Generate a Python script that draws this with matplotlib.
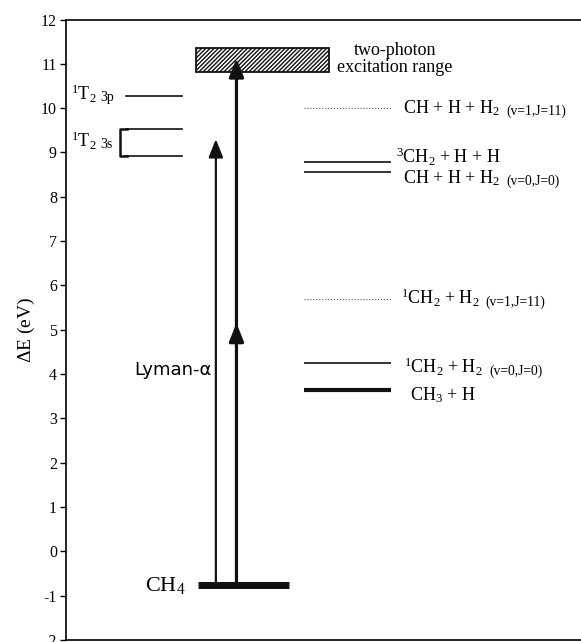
import matplotlib.pyplot as plt
from matplotlib.patches import Rectangle

plt.rcParams['font.family'] = 'Liberation Serif'
plt.rcParams['mathtext.fontset'] = 'custom'
plt.rcParams['mathtext.rm'] = 'Liberation Serif'
plt.rcParams['mathtext.it'] = 'Liberation Serif:italic'
plt.rcParams['axes.unicode_minus'] = False

# product channels (eV)
product_labels = [r'CH + H + H$_2$', r'$^3$CH$_2$ + H + H', r'CH + H + H$_2$',
                  r'$^1$CH$_2$ + H$_2$', r'$^1$CH$_2$ + H$_2$', r'CH$_3$ + H']
product_states = ['(v=1,J=11)', '', '(v=0,J=0)', '(v=1,J=11)', '(v=0,J=0)', '']
product_energy = [10.0, 8.78, 8.56, 5.69, 4.25, 3.64]

# Rydberg states of methane
rydberg_labels = ['3p', '3s']
rydberg_3p = [10.28]
rydberg_3s = [9.54, 8.93]

ch4_energy = -0.77
lyman_tip = 9.3
two_photon_steps = [5.15, 11.12]
two_photon_range = [10.82, 11.35]
yticks = list(range(-2, 13))

fig = plt.figure(figsize=(5.81, 6.42), dpi=100)
ax = fig.add_axes([66 / 581, 2 / 642, 515 / 581, 620.5 / 642])
ax.set_xlim(0, 1)
ax.set_ylim(-2, 12)
ax.set_yticks(yticks)
ax.set_xticks([])
ax.tick_params(axis='y', direction='out', length=4.5, width=1, labelsize=11.5, pad=2)
ax.spines['right'].set_visible(False)
for side in ['left', 'top', 'bottom']:
    ax.spines[side].set_linewidth(1.2)
ax.set_ylabel(r'$\Delta$E (eV)', fontsize=14, labelpad=3)

ink = '#111111'

# right-hand column of product levels
line_styles = [dict(ls=':', lw=0.8, color='#555555'), dict(ls='-', lw=1.2, color=ink),
               dict(ls='-', lw=1.2, color=ink), dict(ls=':', lw=0.8, color='#555555'),
               dict(ls='-', lw=1.2, color=ink), dict(ls='-', lw=3.0, color=ink)]
label_dy = [-0.11, -0.02, -0.25, -0.11, -0.23, -0.23]
label_x = [0.654, 0.641, 0.654, 0.650, 0.657, 0.668]
for lab, st, e, style, dy, lx in zip(product_labels, product_states, product_energy,
                                     line_styles, label_dy, label_x):
    ax.plot([0.462, 0.632], [e, e], solid_capstyle='butt', **style)
    t = ax.text(lx, e + dy, lab, fontsize=13, va='baseline', ha='left')
    if st:
        ax.annotate(st, xy=(1, 0), xycoords=t, xytext=(4.5, 0), textcoords='offset points',
                    fontsize=9.8, va='bottom', ha='left')

# Rydberg levels on the left
for e in rydberg_3p + rydberg_3s:
    ax.plot([0.117, 0.225], [e, e], color=ink, lw=1.2)
ax.plot([0.119, 0.104, 0.104, 0.119],
        [rydberg_3s[0], rydberg_3s[0], rydberg_3s[1], rydberg_3s[1]], color=ink, lw=1.8)
for name, base in zip(rydberg_labels, [rydberg_3p[0] - 0.10, sum(rydberg_3s) / 2 - 0.12]):
    t = ax.text(0.0097, base, r'$^1$T$_2$', fontsize=13, va='baseline', ha='left')
    ax.annotate(name, xy=(1, 0.05), xycoords=t, xytext=(3, 0), textcoords='offset points',
                fontsize=10, va='bottom', ha='left')

# two-photon excitation window
lo, hi = two_photon_range
ax.add_patch(Rectangle((0.252, lo), 0.259, hi - lo, facecolor='white', edgecolor=ink,
                       lw=1.3, hatch='////////', zorder=2))
ax.text(0.639, 11.11, 'two-photon\nexcitation range', fontsize=13, ha='center',
        va='center', linespacing=0.95)

# ground state
ax.plot([0.256, 0.433], [ch4_energy, ch4_energy], color=ink, lw=5, solid_capstyle='butt')
ax.text(0.233, -0.9, r'CH$_4$', fontsize=16, ha='right', va='baseline')

# Lyman-alpha one-photon excitation
ax.annotate('', xy=(0.291, lyman_tip), xytext=(0.291, ch4_energy),
            arrowprops=dict(arrowstyle='-|>,head_length=0.55,head_width=0.22',
                            mutation_scale=20, lw=1.6, color=ink, shrinkA=0, shrinkB=0))
ax.text(0.282, 3.98, 'Lyman-\u03b1', family='DejaVu Sans', fontsize=13,
        ha='right', va='baseline')

# two-photon excitation
start = ch4_energy
for tip in two_photon_steps:
    ax.annotate('', xy=(0.331, tip), xytext=(0.331, start),
                arrowprops=dict(arrowstyle='-|>,head_length=0.55,head_width=0.22',
                                mutation_scale=20, lw=2.3, color=ink, shrinkA=0,
                                shrinkB=0), zorder=3)
    start = tip - 0.3

fig.savefig('out.png', dpi=100)
